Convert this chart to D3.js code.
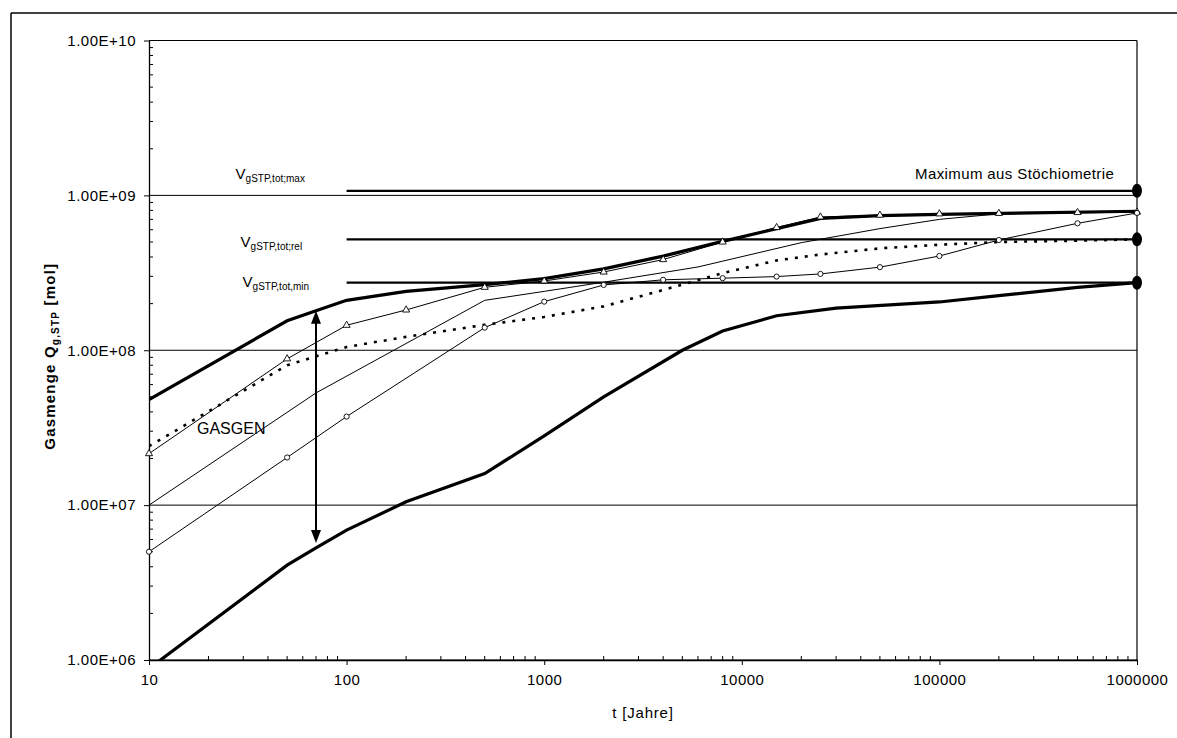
<!DOCTYPE html>
<html><head><meta charset="utf-8">
<script src="https://cdn.jsdelivr.net/npm/d3@7"></script>
<style>
body{margin:0;background:#fff}
svg{display:block}
text{font-family:"Liberation Sans",Arial,sans-serif;fill:#000}
</style>
</head><body>
<svg id="c" width="1177" height="738"></svg>
<script>
// ---------- data ----------
const xTicks = [10, 100, 1000, 10000, 100000, 1000000];
const xTickLabels = ["10", "100", "1000", "10000", "100000", "1000000"];
const yTicks = [1e6, 1e7, 1e8, 1e9, 1e10];
const yTickLabels = ["1.00E+06", "1.00E+07", "1.00E+08", "1.00E+09", "1.00E+10"];

// thick upper GASGEN curve
const tA = [10, 50, 70, 100, 200, 500, 1000, 2000, 4000, 8000, 15000, 25000, 50000, 100000, 1000000];
const vA = [4.8e7, 1.55e8, 1.8e8, 2.1e8, 2.4e8, 2.65e8, 2.9e8, 3.35e8, 4.05e8, 5.05e8, 6.1e8, 7.1e8, 7.4e8, 7.55e8, 7.9e8];
// thin curve with triangle markers
const tB = [10, 50, 100, 200, 500, 1000, 2000, 4000, 8000, 15000, 25000, 50000, 100000, 200000, 500000, 1000000];
const vB = [2.15e7, 8.8e7, 1.45e8, 1.82e8, 2.55e8, 2.8e8, 3.2e8, 3.85e8, 5.0e8, 6.2e8, 7.25e8, 7.45e8, 7.6e8, 7.65e8, 7.75e8, 7.8e8];
// dotted curve
const tC = [10, 50, 100, 200, 500, 1000, 2000, 4000, 8000, 15000, 25000, 50000, 100000, 200000, 500000, 1000000];
const vC = [2.4e7, 8.0e7, 1.05e8, 1.22e8, 1.46e8, 1.64e8, 1.92e8, 2.45e8, 3.15e8, 3.8e8, 4.15e8, 4.55e8, 4.8e8, 5.0e8, 5.1e8, 5.2e8];
// thin curve without markers
const tD = [10, 70, 500, 1000, 2000, 6000, 20000, 50000, 100000, 200000, 1000000];
const vD = [1.0e7, 5.3e7, 2.1e8, 2.4e8, 2.75e8, 3.45e8, 4.95e8, 6.1e8, 7.0e8, 7.6e8, 7.8e8];
// thin curve with circle markers
const tE = [10, 50, 100, 500, 1000, 2000, 4000, 8000, 15000, 25000, 50000, 100000, 200000, 500000, 1000000];
const vE = [5.0e6, 2.03e7, 3.73e7, 1.4e8, 2.06e8, 2.64e8, 2.85e8, 2.92e8, 2.99e8, 3.11e8, 3.44e8, 4.06e8, 5.15e8, 6.6e8, 7.7e8];
// thick lower GASGEN curve
const tF = [10, 50, 70, 100, 200, 500, 1000, 2000, 5000, 8000, 15000, 30000, 100000, 200000, 500000, 1000000];
const vF = [8.8e5, 4.1e6, 5.3e6, 6.9e6, 1.05e7, 1.6e7, 2.8e7, 5.0e7, 1.0e8, 1.33e8, 1.67e8, 1.87e8, 2.05e8, 2.25e8, 2.55e8, 2.73e8];

// stoichiometric levels
const levelSubs = ["gSTP,tot;max", "gSTP,tot;rel", "gSTP,tot,min"];
const levelValues = [1.07e9, 5.2e8, 2.73e8];
const levelT = [100, 1000000];

// GASGEN range arrow
const arrowT = 70;
const arrowTop = 1.8e8;
const arrowBottom = 5.7e6;

// ---------- chart ----------
const svg = d3.select("#c");
const x = d3.scaleLog().domain([10, 1e6]).range([149, 1137]);
const y = d3.scaleLog().domain([1e6, 1e10]).range([660, 40.5]);
const X0 = x.range()[0], X1 = x.range()[1], Y0 = y.range()[0], Y1 = y.range()[1];

// outer frame
svg.append("line").attr("x1", 11).attr("x2", 1177).attr("y1", 13).attr("y2", 13).attr("stroke", "#000").attr("stroke-width", 1.5);
svg.append("line").attr("x1", 11).attr("x2", 11).attr("y1", 13).attr("y2", 738).attr("stroke", "#000").attr("stroke-width", 1.5);

// horizontal gridlines
svg.append("g").selectAll("line").data(yTicks).join("line")
  .attr("x1", X0).attr("x2", X1).attr("y1", d => y(d)).attr("y2", d => y(d))
  .attr("stroke", "#000").attr("stroke-width", 1);
// right border
svg.append("line").attr("x1", X1).attr("x2", X1).attr("y1", Y1).attr("y2", Y0).attr("stroke", "#000").attr("stroke-width", 1.2);

// minor ticks
const minorX = [], minorY = [];
for (let d = 10; d < 1e6; d *= 10) for (let k = 2; k <= 9; k++) minorX.push(k * d);
for (let d = 1e6; d < 1e10; d *= 10) for (let k = 2; k <= 9; k++) minorY.push(k * d);

// x axis
const xAxis = d3.axisBottom(x).tickValues(xTicks).tickFormat((d, i) => xTickLabels[i]).tickSizeInner(5).tickSizeOuter(0).tickPadding(9);
const gx = svg.append("g").attr("transform", `translate(0,${Y0})`).call(xAxis);
gx.select(".domain").attr("stroke-width", 1.3);
gx.selectAll("text").style("font-size", "15px").style("letter-spacing", "0.5px").attr("font-family", null);
svg.append("g").selectAll("line").data(minorX).join("line")
  .attr("x1", d => x(d)).attr("x2", d => x(d)).attr("y1", Y0).attr("y2", Y0 - 4).attr("stroke", "#000");

// y axis
const yAxis = d3.axisLeft(y).tickValues(yTicks).tickFormat((d, i) => yTickLabels[i]).tickSizeInner(5).tickSizeOuter(0).tickPadding(8);
const gy = svg.append("g").attr("transform", `translate(${X0},0)`).call(yAxis);
gy.select(".domain").attr("stroke-width", 1.3);
gy.selectAll("text").style("font-size", "15px").style("letter-spacing", "0.5px").attr("font-family", null);
svg.append("g").selectAll("line").data(minorY).join("line")
  .attr("x1", X0).attr("x2", X0 + 4).attr("y1", d => y(d)).attr("y2", d => y(d)).attr("stroke", "#000");

// axis titles
svg.append("text").attr("x", (X0 + X1) / 2).attr("y", 718).attr("text-anchor", "middle")
  .style("font-size", "15px").style("letter-spacing", "0.8px").text("t [Jahre]");
const yt = svg.append("text").attr("transform", `translate(55,${(Y0 + Y1) / 2 + 6}) rotate(-90)`)
  .attr("text-anchor", "middle").style("font-size", "15px").style("font-weight", "bold").style("letter-spacing", "1.2px");
yt.append("tspan").text("Gasmenge Q");
yt.append("tspan").attr("dy", 4).style("font-size", "10px").text("g,STP");
yt.append("tspan").attr("dy", -4).text(" [mol]");

// clip
svg.append("clipPath").attr("id", "clip").append("rect")
  .attr("x", X0).attr("y", Y1).attr("width", X1 - X0).attr("height", Y0 - Y1);
const plot = svg.append("g").attr("clip-path", "url(#clip)");

const line = d3.line().x(d => x(d[0])).y(d => y(d[1]));
const zip = (t, v) => t.map((d, i) => [d, v[i]]);

// level lines
levelValues.forEach(v => {
  plot.append("path").datum(levelT.map(t => [t, v])).attr("d", line)
    .attr("fill", "none").attr("stroke", "#000").attr("stroke-width", 2.2);
});

// curves
plot.append("path").datum(zip(tE, vE)).attr("d", line).attr("fill", "none").attr("stroke", "#000").attr("stroke-width", 1);
plot.append("path").datum(zip(tD, vD)).attr("d", line).attr("fill", "none").attr("stroke", "#000").attr("stroke-width", 1);
plot.append("path").datum(zip(tB, vB)).attr("d", line).attr("fill", "none").attr("stroke", "#000").attr("stroke-width", 1);
plot.append("path").datum(zip(tC, vC)).attr("d", line).attr("fill", "none").attr("stroke", "#000")
  .attr("stroke-width", 2.6).attr("stroke-dasharray", "3,7");
plot.append("path").datum(zip(tA, vA)).attr("d", line).attr("fill", "none").attr("stroke", "#000").attr("stroke-width", 3.2);
plot.append("path").datum(zip(tF, vF)).attr("d", line).attr("fill", "none").attr("stroke", "#000").attr("stroke-width", 3.2);

// markers
const tri = d3.symbol().type(d3.symbolTriangle).size(22);
svg.append("g").selectAll("path").data(zip(tB, vB)).join("path")
  .attr("transform", d => `translate(${x(d[0])},${y(d[1])})`).attr("d", tri)
  .attr("fill", "#fff").attr("stroke", "#000").attr("stroke-width", 0.9);
svg.append("g").selectAll("circle").data(zip(tE, vE)).join("circle")
  .attr("cx", d => x(d[0])).attr("cy", d => y(d[1])).attr("r", 2.6)
  .attr("fill", "#fff").attr("stroke", "#000").attr("stroke-width", 0.9);

// end dots of levels
svg.append("g").selectAll("ellipse").data(levelValues).join("ellipse")
  .attr("cx", x(levelT[1])).attr("cy", d => y(d)).attr("rx", 5).attr("ry", 7).attr("fill", "#000");

// level labels
const labelDx = [-111, -106, -104];
const labelDy = [-12, 8, 4];
levelValues.forEach((v, i) => {
  const t = svg.append("text").attr("x", x(levelT[0]) + labelDx[i]).attr("y", y(v) + labelDy[i]).style("font-size", "15px");
  t.append("tspan").text("V");
  t.append("tspan").attr("dy", 3).style("font-size", "10px").text(levelSubs[i]);
});
svg.append("text").attr("x", 915).attr("y", y(levelValues[0]) - 12).style("font-size", "15px").style("letter-spacing", "0.4px")
  .text("Maximum aus Stöchiometrie");

// arrow
const ax = x(arrowT), ay1 = y(arrowTop), ay2 = y(arrowBottom);
svg.append("line").attr("x1", ax).attr("x2", ax).attr("y1", ay1 + 10).attr("y2", ay2 - 10).attr("stroke", "#000").attr("stroke-width", 2);
svg.append("path").attr("d", `M${ax},${ay1} L${ax - 5},${ay1 + 13} L${ax + 5},${ay1 + 13} Z`).attr("fill", "#000");
svg.append("path").attr("d", `M${ax},${ay2} L${ax - 5},${ay2 - 13} L${ax + 5},${ay2 - 13} Z`).attr("fill", "#000");

svg.append("text").attr("x", 197).attr("y", 434).style("font-size", "16px").text("GASGEN");
</script>
</body></html>
